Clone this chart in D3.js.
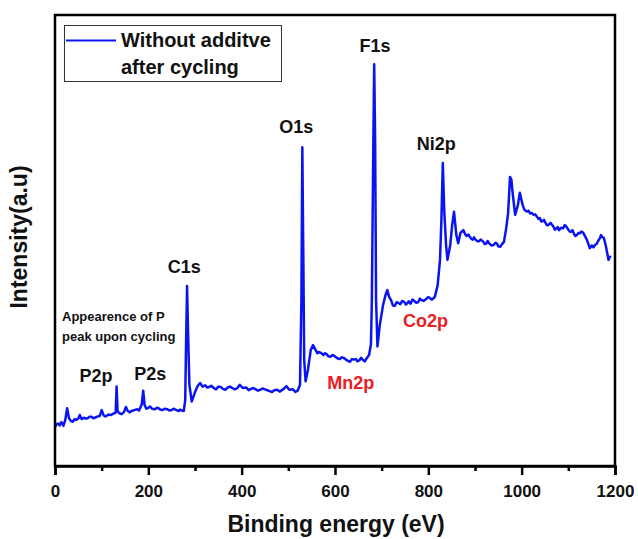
<!DOCTYPE html>
<html>
<head>
<meta charset="utf-8">
<script src="https://cdn.jsdelivr.net/npm/d3@7"></script>
<style>
  body { margin: 0; background: #fff; }
  #chart { width: 638px; height: 539px; }
  text { font-family: Arial, "Liberation Sans", sans-serif; font-weight: bold; }
</style>
</head>
<body>
<div id="chart"></div>
<script>
// [binding energy (eV), intensity (a.u.)]
const spectrum = [
  [0, 8.6], [3, 9.2], [6, 9.4], [10, 9.0], [13, 9.7], [15, 9.6], [18, 8.9], [22, 10.2], [26, 12.8],
  [30, 10.6], [34, 10.0], [38, 9.8], [42, 10.4], [45, 10.2], [50, 10.5], [53, 11.3], [57, 10.4],
  [62, 10.7], [66, 10.5], [70, 10.6], [74, 10.9], [78, 10.9], [82, 10.6], [85, 10.7], [92, 11.0],
  [96, 11.1], [100, 12.4], [104, 11.3], [107, 11.0], [110, 11.1], [115, 11.4], [120, 11.3],
  [125, 11.6], [130, 11.8], [132, 17.6], [134, 12.2], [138, 11.7], [143, 11.5], [148, 12.0],
  [152, 13.1], [156, 12.2], [160, 11.9], [164, 12.2], [170, 12.4], [176, 12.6], [180, 12.3],
  [186, 13.7], [189, 16.7], [192, 13.5], [196, 12.7], [200, 12.9], [204, 13.2], [208, 12.7],
  [215, 12.6], [218, 12.9], [222, 12.8], [226, 12.5], [230, 12.4], [235, 12.7], [240, 12.6],
  [245, 12.3], [250, 12.4], [254, 12.7], [258, 12.5], [265, 12.2], [268, 12.5], [272, 12.3],
  [276, 12.2], [279, 14.6], [281, 27.9], [283, 39.9], [285, 30.2], [288, 18.0], [293, 14.3],
  [300, 16.4], [306, 17.8], [311, 18.4], [316, 17.6], [322, 17.9], [326, 17.4], [330, 17.5],
  [335, 17.8], [340, 17.3], [345, 17.0], [350, 17.6], [355, 17.5], [360, 17.1], [365, 16.9],
  [370, 17.4], [375, 17.6], [380, 17.3], [385, 17.0], [390, 17.2], [396, 18.0], [402, 17.3],
  [410, 17.4], [415, 16.8], [420, 17.1], [425, 17.3], [430, 17.0], [435, 16.7], [440, 16.9],
  [445, 17.2], [450, 17.0], [455, 16.8], [460, 16.6], [465, 16.4], [470, 16.8], [476, 16.9],
  [482, 16.5], [490, 17.1], [496, 17.7], [502, 16.9], [510, 17.0], [515, 16.4], [520, 16.7],
  [525, 18.0], [528, 36.8], [530, 70.7], [532, 47.9], [534, 23.5], [537, 18.8], [542, 21.3],
  [548, 25.7], [553, 26.8], [558, 25.8], [562, 25.0], [565, 25.3], [570, 25.1], [575, 24.6],
  [578, 25.0], [582, 24.8], [586, 24.3], [590, 24.2], [595, 24.6], [600, 24.3], [605, 23.9],
  [610, 23.7], [615, 24.1], [620, 23.9], [626, 23.4], [632, 23.1], [636, 23.7], [640, 23.6],
  [645, 23.7], [648, 23.2], [652, 23.4], [656, 24.0], [660, 23.5], [664, 23.2], [668, 23.9],
  [673, 24.6], [677, 27.0], [679, 36.8], [682, 70.1], [684, 89.1], [686, 72.3], [688, 36.8],
  [691, 26.5], [696, 31.3], [703, 35.7], [708, 37.8], [712, 39.0], [716, 37.5], [720, 36.8],
  [724, 35.6], [728, 35.5], [732, 36.3], [735, 36.2], [740, 35.9], [744, 36.6], [748, 36.4],
  [752, 35.8], [755, 36.1], [758, 36.5], [762, 36.0], [766, 36.9], [770, 36.6], [774, 36.2],
  [778, 36.3], [782, 37.1], [785, 36.8], [790, 36.6], [795, 37.0], [799, 37.4], [803, 37.3],
  [807, 36.9], [810, 37.1], [814, 37.5], [820, 40.1], [825, 45.7], [828, 54.5], [831, 67.2],
  [834, 56.8], [838, 49.0], [841, 45.7], [847, 49.0], [851, 53.4], [855, 56.4], [860, 51.2],
  [864, 49.4], [869, 51.7], [875, 52.3], [879, 51.4], [882, 51.0], [886, 51.3], [889, 50.8],
  [892, 50.4], [895, 50.2], [898, 50.7], [900, 50.3], [904, 49.9], [908, 49.8], [912, 50.2],
  [918, 49.7], [921, 49.2], [924, 49.3], [927, 49.9], [930, 49.4], [935, 48.9], [940, 49.0],
  [944, 49.5], [947, 49.3], [950, 48.7], [954, 48.6], [958, 49.2], [962, 49.7], [967, 52.8],
  [971, 56.1], [975, 64.1], [978, 63.5], [980, 61.2], [986, 55.7], [992, 57.9], [996, 60.6],
  [1002, 57.9], [1006, 56.8], [1011, 56.4], [1015, 56.6], [1018, 56.0], [1022, 56.1],
  [1025, 55.7], [1029, 55.8], [1032, 55.4], [1036, 54.8], [1039, 55.0], [1042, 54.2],
  [1045, 54.3], [1048, 54.6], [1050, 54.1], [1054, 53.4], [1058, 53.5], [1062, 53.9],
  [1068, 53.1], [1071, 52.4], [1074, 52.6], [1077, 53.0], [1080, 52.3], [1084, 52.8],
  [1089, 52.7], [1092, 53.4], [1095, 53.2], [1100, 52.4], [1103, 52.0], [1105, 51.9],
  [1109, 52.3], [1112, 51.5], [1115, 51.0], [1118, 51.2], [1122, 51.7], [1125, 51.6],
  [1128, 52.0], [1132, 51.7], [1136, 50.9], [1140, 50.1], [1143, 49.2], [1146, 48.3],
  [1150, 48.9], [1154, 48.5], [1157, 49.0], [1161, 49.3], [1165, 50.1], [1168, 50.6],
  [1170, 51.2], [1173, 50.7], [1176, 50.6], [1180, 49.0], [1183, 47.4], [1186, 45.7],
  [1189, 46.4], [1191, 46.2]
];

const xTicks = [0, 200, 400, 600, 800, 1000, 1200];
const minorTicks = [100, 300, 500, 700, 900, 1100];

// peak annotations
const peakLabels = ["O1s", "F1s", "Ni2p", "C1s", "P2p", "P2s", "Mn2p", "Co2p"];
const peakEnergy = [517, 686, 817, 277, 88, 204, 634, 794];
const peakLevel = [73.8, 91.9, 70.1, 42.9, 18.6, 19.1, 17.0, 30.9];
const peakColor = ["#111", "#111", "#111", "#111", "#111", "#111", "#e8201f", "#e8201f"];

const width = 638, height = 539;
const margin = {top: 15, right: 23, bottom: 73, left: 55};

const svg = d3.select("#chart").append("svg")
  .attr("width", width)
  .attr("height", height);

const x = d3.scaleLinear().domain([0, 1200]).range([margin.left, width - margin.right]);
const y = d3.scaleLinear().domain([0, 100]).range([height - margin.bottom, margin.top]);

// spectrum
const line = d3.line()
  .x(d => x(d[0]))
  .y(d => y(d[1]));

svg.append("path")
  .datum(spectrum)
  .attr("fill", "none")
  .attr("stroke", "#0a14f0")
  .attr("stroke-width", 2.5)
  .attr("stroke-linejoin", "round")
  .attr("d", line);

// frame
svg.append("rect")
  .attr("x", margin.left)
  .attr("y", margin.top)
  .attr("width", width - margin.left - margin.right)
  .attr("height", height - margin.top - margin.bottom)
  .attr("fill", "none")
  .attr("stroke", "#000")
  .attr("stroke-width", 2.5);

// bottom axis
const xAxis = svg.append("g")
  .attr("transform", `translate(0,${height - margin.bottom})`)
  .call(d3.axisBottom(x).tickValues(xTicks).tickSize(9).tickPadding(10).tickFormat(d3.format("d")));
xAxis.select(".domain").attr("stroke-width", 2.5);
xAxis.selectAll(".tick line").attr("stroke-width", 2.5);
xAxis.selectAll("text").attr("font-size", 17).attr("fill", "#111");

svg.append("g")
  .attr("transform", `translate(0,${height - margin.bottom})`)
  .call(d3.axisBottom(x).tickValues(minorTicks).tickSize(5).tickFormat(""))
  .call(g => g.select(".domain").remove())
  .selectAll(".tick line").attr("stroke-width", 2.5);

// axis titles
svg.append("text")
  .attr("x", 336)
  .attr("y", 532)
  .attr("text-anchor", "middle")
  .attr("font-size", 23)
  .attr("fill", "#111")
  .text("Binding energy (eV)");

svg.append("text")
  .attr("transform", `translate(27,237) rotate(-90)`)
  .attr("text-anchor", "middle")
  .attr("font-size", 23)
  .attr("fill", "#111")
  .text("Intensity(a.u)");

// peak labels
svg.append("g")
  .selectAll("text")
  .data(peakLabels)
  .join("text")
    .attr("x", (d, i) => x(peakEnergy[i]))
    .attr("y", (d, i) => y(peakLevel[i]))
    .attr("text-anchor", "middle")
    .attr("font-size", 18)
    .attr("fill", (d, i) => peakColor[i])
    .text(d => d);

// P note
const note = svg.append("text")
  .attr("font-size", 13)
  .attr("fill", "#111");
note.append("tspan").attr("x", 62).attr("y", 321).text("Appearence of P");
note.append("tspan").attr("x", 62).attr("y", 341).text("peak upon cycling");

// legend
svg.append("rect")
  .attr("x", 64.5).attr("y", 25.5)
  .attr("width", 217).attr("height", 56)
  .attr("fill", "#fff")
  .attr("stroke", "#333")
  .attr("stroke-width", 1);
svg.append("line")
  .attr("x1", 66).attr("x2", 116)
  .attr("y1", 40.5).attr("y2", 40.5)
  .attr("stroke", "#0a14f0")
  .attr("stroke-width", 2);
const leg = svg.append("text")
  .attr("font-size", 20)
  .attr("fill", "#111");
leg.append("tspan").attr("x", 121).attr("y", 47).text("Without additve");
leg.append("tspan").attr("x", 121).attr("y", 74).text("after cycling");
</script>
</body>
</html>
